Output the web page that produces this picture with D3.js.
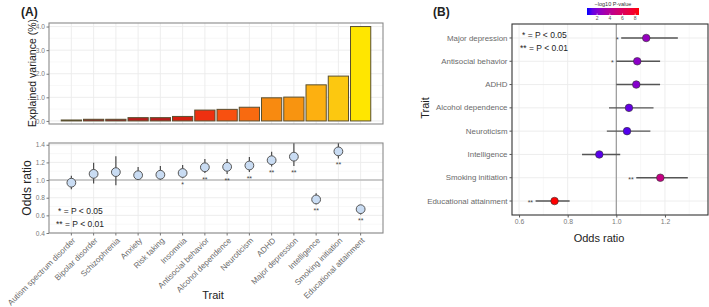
<!DOCTYPE html>
<html><head><meta charset="utf-8">
<script src="https://cdn.jsdelivr.net/npm/d3@7"></script>
<style>
body{margin:0;background:#fff;}
text{font-family:"Liberation Sans",Arial,sans-serif;}
</style></head>
<body><svg id="c" width="709" height="307"></svg>
<script>
// ---------- DATA ----------
const traitsA = ["Autism spectrum disorder","Bipolar disorder","Schizophrenia","Anxiety","Risk taking","Insomnia","Antisocial behavior","Alcohol dependence","Neuroticism","ADHD","Major depression","Intelligence","Smoking initiation","Educational attainment"];
const explainedVar = [0.04,0.07,0.07,0.14,0.14,0.19,0.46,0.49,0.58,0.98,1.01,1.53,1.9,4.0];
const orA = [0.97,1.07,1.09,1.055,1.06,1.08,1.145,1.15,1.165,1.225,1.265,0.78,1.325,0.67];
const orA_lo = [0.895,0.96,0.94,1.0,1.0,1.02,1.08,1.07,1.09,1.155,1.16,0.725,1.245,0.61];
const orA_hi = [1.05,1.195,1.27,1.147,1.158,1.17,1.24,1.24,1.26,1.32,1.45,0.85,1.45,0.715];
const sigA = ["","","","","","*","**","**","**","**","**","**","**","**"];
const barTicks = [0,1,2,3,4];
const orTicksA = [0.4,0.6,0.8,1.0,1.2,1.4];

const traitsB = ["Major depression","Antisocial behavior","ADHD","Alcohol dependence","Neuroticism","Intelligence","Smoking initiation","Educational attainment"];
const orB = [1.123,1.086,1.082,1.052,1.044,0.93,1.181,0.746];
const orB_lo = [1.02,1.0,1.0,0.97,0.961,0.859,1.082,0.668];
const orB_hi = [1.253,1.18,1.18,1.153,1.14,1.016,1.294,0.808];
const logP = [2.6,2.3,2.1,1.3,1.0,1.1,4.7,8.6];
const sigB = ["*","*","","","","","**","**"];
const orTicksB = [0.6,0.8,1.0,1.2];
const pTicks = [2,4,6,8];

// ---------- STYLE ----------
const barColors = ["#333333","#9a1520","#9a1520","#b81c1c","#b81c1c","#d42010","#ee3010","#f85010","#f86a10","#f88a10","#f89410","#fdb010","#fcc810","#ffe600"];
const gridCol = "#ebebeb", tickTxt = "#7a7a7a";

const svg = d3.select("#c");

// ---------- PANEL A top ----------
const A = {l:49, r:383};
const xA = d3.scaleBand().domain(traitsA).range([A.l, A.r]).paddingInner(0.09).paddingOuter(0.55);
const yBar = d3.scaleLinear().domain([-0.13, 4.15]).range([124, 23]);

function panelFrame(x0,x1,y0,y1,stroke){
  svg.append("rect").attr("x",x0).attr("y",y0).attr("width",x1-x0).attr("height",y1-y0)
    .attr("fill","none").attr("stroke",stroke).attr("stroke-width",1.1);
}
const gT = svg.append("g");
[0.5,1.5,2.5,3.5].forEach(v=>gT.append("line").attr("x1",A.l).attr("x2",A.r).attr("y1",yBar(v)).attr("y2",yBar(v)).attr("stroke","#f3f3f3").attr("stroke-width",0.6));
barTicks.forEach(v=>gT.append("line").attr("x1",A.l).attr("x2",A.r).attr("y1",yBar(v)).attr("y2",yBar(v)).attr("stroke",gridCol).attr("stroke-width",0.9));
traitsA.forEach(t=>gT.append("line").attr("x1",xA(t)+xA.bandwidth()/2).attr("x2",xA(t)+xA.bandwidth()/2).attr("y1",23).attr("y2",124).attr("stroke",gridCol).attr("stroke-width",0.9));
gT.selectAll("rect.bar").data(explainedVar).join("rect").attr("class","bar")
  .attr("x",(d,i)=>xA(traitsA[i])).attr("width",xA.bandwidth())
  .attr("y",d=>yBar(d)).attr("height",d=>yBar(0)-yBar(d))
  .attr("fill",(d,i)=>barColors[i]).attr("stroke","#5a5030").attr("stroke-width",1);
panelFrame(A.l,A.r,23,124,"#8a8a8a");
const axT = d3.axisLeft(yBar).tickValues(barTicks).tickFormat(d3.format(".1f")).tickSize(2.5).tickPadding(1.5);
const gaT = svg.append("g").attr("transform",`translate(${A.l},0)`).call(axT);
gaT.select(".domain").remove();
gaT.selectAll("line").attr("stroke","#777");
gaT.selectAll("text").attr("fill",tickTxt).style("font-size","6.6px");
svg.append("text").attr("transform",`translate(36,73) rotate(-90)`).attr("text-anchor","middle")
  .style("font-size","10.5px").attr("fill","#222").text("Explained variance (%)");
svg.append("text").attr("x",21).attr("y",16).style("font-size","12px").style("font-weight","bold").attr("fill","#222").text("(A)");

// ---------- PANEL A bottom ----------
const yOR = d3.scaleLinear().domain([0.4,1.42]).range([233,143]);
const gB = svg.append("g");
gB.append("defs").append("clipPath").attr("id","clipA").append("rect").attr("x",A.l).attr("y",143).attr("width",A.r-A.l).attr("height",90);
[0.5,0.7,0.9,1.1,1.3].forEach(v=>gB.append("line").attr("x1",A.l).attr("x2",A.r).attr("y1",yOR(v)).attr("y2",yOR(v)).attr("stroke","#f3f3f3").attr("stroke-width",0.6));
orTicksA.forEach(v=>gB.append("line").attr("x1",A.l).attr("x2",A.r).attr("y1",yOR(v)).attr("y2",yOR(v)).attr("stroke",gridCol).attr("stroke-width",0.9));
traitsA.forEach(t=>gB.append("line").attr("x1",xA(t)+xA.bandwidth()/2).attr("x2",xA(t)+xA.bandwidth()/2).attr("y1",143).attr("y2",233).attr("stroke",gridCol).attr("stroke-width",0.9));
gB.append("line").attr("x1",A.l).attr("x2",A.r).attr("y1",yOR(1)).attr("y2",yOR(1)).attr("stroke","#bdbdbd").attr("stroke-width",1.6);
const gP = gB.append("g").attr("clip-path","url(#clipA)");
traitsA.forEach((t,i)=>{
  const cx = xA(t)+xA.bandwidth()/2;
  gP.append("line").attr("x1",cx).attr("x2",cx).attr("y1",yOR(orA_lo[i])).attr("y2",yOR(orA_hi[i])).attr("stroke","#4a4a4a").attr("stroke-width",1.2);
  gP.append("circle").attr("cx",cx).attr("cy",yOR(orA[i])).attr("r",4.4).attr("fill","#c9dcf3").attr("stroke","#555").attr("stroke-width",1);
  if(sigA[i]) gB.append("text").attr("x",cx).attr("y",yOR(orA_lo[i])+9).attr("text-anchor","middle").style("font-size","7px").attr("fill","#444").text(sigA[i]);
});
panelFrame(A.l,A.r,143,233,"#8a8a8a");
gB.append("text").attr("x",58).attr("y",213.5).style("font-size","8.5px").attr("fill","#222").text("* = P < 0.05");
gB.append("text").attr("x",56).attr("y",226.5).style("font-size","8.5px").attr("fill","#222").text("** = P < 0.01");
const axL = d3.axisLeft(yOR).tickValues(orTicksA).tickFormat(d3.format(".1f")).tickSize(2.5).tickPadding(1.5);
const gaL = svg.append("g").attr("transform",`translate(${A.l},0)`).call(axL);
gaL.select(".domain").remove();
gaL.selectAll("line").attr("stroke","#777");
gaL.selectAll("text").attr("fill",tickTxt).style("font-size","6.6px");
const axBx = d3.axisBottom(xA).tickSize(2.5).tickFormat("");
const gaBx = svg.append("g").attr("transform",`translate(0,233)`).call(axBx);
gaBx.select(".domain").remove();
gaBx.selectAll("line").attr("stroke","#777");
traitsA.forEach(t=>{
  const cx = xA(t)+xA.bandwidth()/2;
  svg.append("text").attr("transform",`translate(${cx+2.5},${239}) rotate(-45)`).attr("text-anchor","end")
    .attr("dy","0.35em").style("font-size","8.1px").attr("fill","#6a6a6a").text(t);
});
svg.append("text").attr("transform",`translate(31,188) rotate(-90)`).attr("text-anchor","middle")
  .style("font-size","12px").attr("fill","#222").text("Odds ratio");
svg.append("text").attr("x",213).attr("y",299).attr("text-anchor","middle").style("font-size","11px").attr("fill","#222").text("Trait");

// ---------- PANEL B ----------
const B = {l:512, r:708, t:24, b:215};
const xB = d3.scaleLinear().domain([0.571,1.377]).range([B.l,B.r]);
const yB = d3.scaleBand().domain(traitsB).range([B.t,B.b]).paddingOuter(0.1);
const colB = d3.scaleLinear().domain([0.4,8.6]).range(["#0000ff","#ff0000"]).interpolate(d3.interpolateLab);
const gC = svg.append("g");
[0.7,0.9,1.1,1.3].forEach(v=>gC.append("line").attr("x1",xB(v)).attr("x2",xB(v)).attr("y1",B.t).attr("y2",B.b).attr("stroke","#f3f3f3").attr("stroke-width",0.6));
orTicksB.forEach(v=>gC.append("line").attr("x1",xB(v)).attr("x2",xB(v)).attr("y1",B.t).attr("y2",B.b).attr("stroke",gridCol).attr("stroke-width",0.9));
traitsB.forEach(t=>gC.append("line").attr("x1",B.l).attr("x2",B.r).attr("y1",yB(t)+yB.bandwidth()/2).attr("y2",yB(t)+yB.bandwidth()/2).attr("stroke",gridCol).attr("stroke-width",0.9));
gC.append("line").attr("x1",xB(1)).attr("x2",xB(1)).attr("y1",B.t).attr("y2",B.b).attr("stroke","#9a9a9a").attr("stroke-width",1.2);
traitsB.forEach((t,i)=>{
  const cy = yB(t)+yB.bandwidth()/2;
  gC.append("line").attr("x1",xB(orB_lo[i])).attr("x2",xB(orB_hi[i])).attr("y1",cy).attr("y2",cy).attr("stroke","#555").attr("stroke-width",1.4);
  gC.append("circle").attr("cx",xB(orB[i])).attr("cy",cy).attr("r",3.8).attr("fill",colB(logP[i])).attr("stroke","#333").attr("stroke-width",0.6);
  if(sigB[i]) gC.append("text").attr("x",xB(orB_lo[i])-2.5).attr("y",cy).attr("dy","0.55em").attr("text-anchor","end").style("font-size","7px").attr("fill","#444").text(sigB[i]);
});
panelFrame(B.l,B.r,B.t,B.b,"#333");
gC.append("text").attr("x",522).attr("y",38).style("font-size","8.5px").attr("fill","#222").text("* = P < 0.05");
gC.append("text").attr("x",520).attr("y",51).style("font-size","8.5px").attr("fill","#222").text("** = P < 0.01");
const axBl = d3.axisLeft(yB).tickSize(2.5).tickPadding(2);
const gaBl = svg.append("g").attr("transform",`translate(${B.l},0)`).call(axBl);
gaBl.select(".domain").remove();
gaBl.selectAll("line").attr("stroke","#555");
gaBl.selectAll("text").attr("fill","#6a6a6a").style("font-size","7.9px");
const axBb = d3.axisBottom(xB).tickValues(orTicksB).tickFormat(d3.format(".1f")).tickSize(2.5).tickPadding(2);
const gaBb = svg.append("g").attr("transform",`translate(0,${B.b})`).call(axBb);
gaBb.select(".domain").remove();
gaBb.selectAll("line").attr("stroke","#555");
gaBb.selectAll("text").attr("fill",tickTxt).style("font-size","6.8px");
svg.append("text").attr("x",599).attr("y",242).attr("text-anchor","middle").style("font-size","11px").attr("fill","#222").text("Odds ratio");
svg.append("text").attr("transform",`translate(429,108) rotate(-90)`).attr("text-anchor","middle").style("font-size","11px").attr("fill","#222").text("Trait");
svg.append("text").attr("x",433).attr("y",16).style("font-size","12px").style("font-weight","bold").attr("fill","#222").text("(B)");

// colour legend
const lg = {x0:587, x1:639, y0:8, y1:15};
const grad = svg.append("defs").append("linearGradient").attr("id","pg");
d3.range(0,1.001,0.1).forEach(f=>grad.append("stop").attr("offset",f).attr("stop-color",colB(0.4+f*8.2)));
const xL = d3.scaleLinear().domain([0.4,8.6]).range([lg.x0,lg.x1]);
svg.append("rect").attr("x",lg.x0).attr("y",lg.y0).attr("width",lg.x1-lg.x0).attr("height",lg.y1-lg.y0).attr("fill","url(#pg)");
pTicks.forEach(v=>{
  svg.append("line").attr("x1",xL(v)).attr("x2",xL(v)).attr("y1",lg.y1-1.5).attr("y2",lg.y1).attr("stroke","#fff").attr("stroke-width",0.6);
  svg.append("text").attr("x",xL(v)).attr("y",20).attr("text-anchor","middle").style("font-size","5px").attr("fill","#555").text(v);
});
svg.append("text").attr("x",613).attr("y",6).attr("text-anchor","middle").style("font-size","5.5px").attr("fill","#333").text("\u2212log10 P-value");
</script></body></html>
